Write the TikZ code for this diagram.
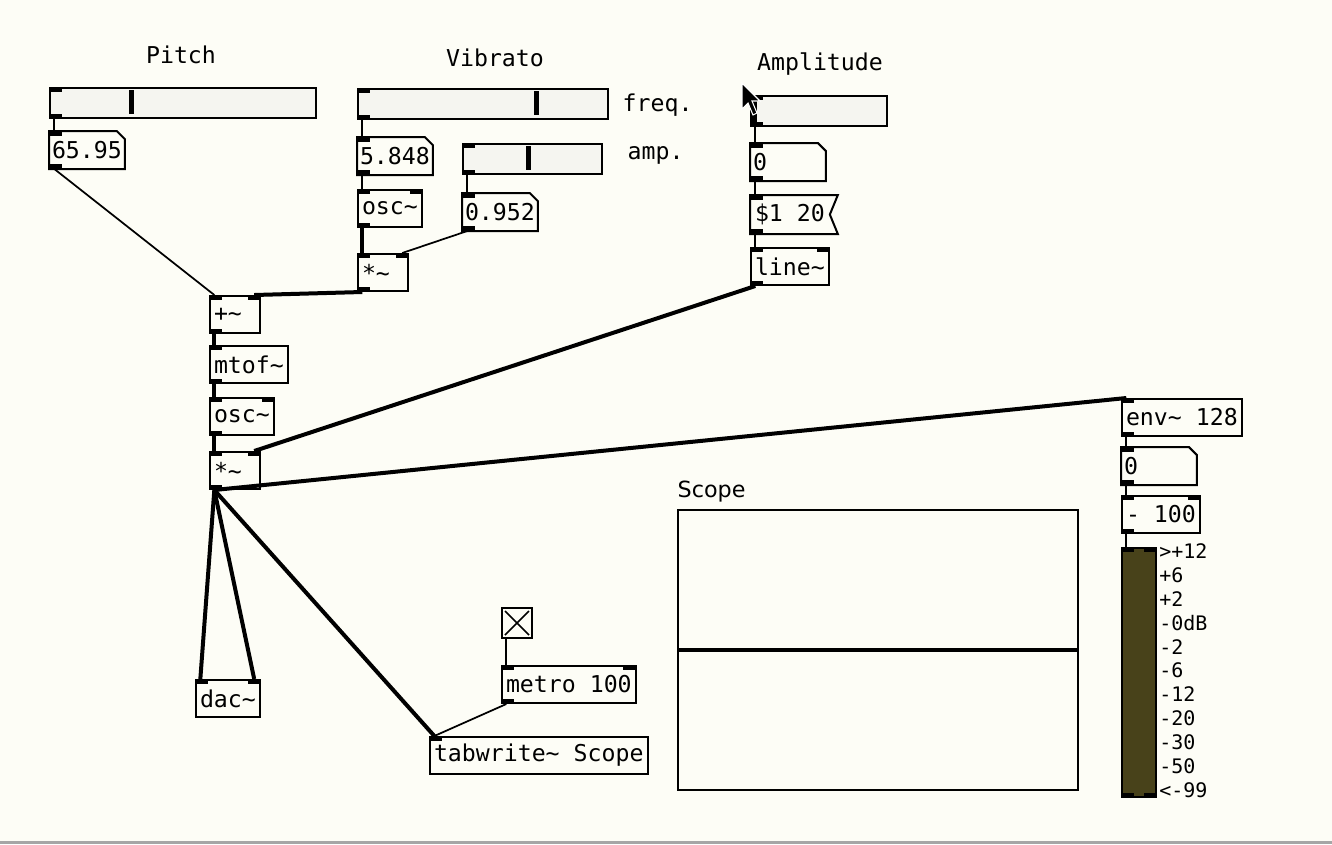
\documentclass[tikz,border=0pt]{standalone}
\usepackage{fontspec}
\setmainfont{DejaVu Sans}
\newfontfamily\pdmono{DejaVu Sans Mono}
\usepackage{tikz}
\usetikzlibrary{positioning}
\definecolor{canvas}{RGB}{253,253,246}
\definecolor{slidebg}{RGB}{245,245,240}
\definecolor{vufill}{RGB}{72,66,26}
\newcommand{\pdfont}{\pdmono\fontsize{17.4}{20}\selectfont}
\newcommand{\vufont}{\pdmono\fontsize{15}{17}\selectfont}
\newcommand{\tld}{\textasciitilde}
% inlet / outlet tabs
\newcommand{\inL}[1]{\fill (#1.north west) rectangle ++(10pt,-3.5pt);}
\newcommand{\inR}[1]{\fill (#1.north east) rectangle ++(-10pt,-3.5pt);}
\newcommand{\outL}[1]{\fill (#1.south west) rectangle ++(10pt,3.5pt);}
\newcommand{\outR}[1]{\fill (#1.south east) rectangle ++(-10pt,3.5pt);}

\begin{document}
\begin{tikzpicture}[x=0.75pt, y=-0.75pt,
    obj/.style={draw, line width=1.5pt, anchor=north west, inner xsep=3pt, inner ysep=0pt,
                minimum height=27.75pt, font=\pdfont},
    slider/.style={draw, fill=slidebg, line width=1.5pt, anchor=north west, inner sep=0pt,
                   minimum height=22.5pt},
    lbl/.style={font=\pdfont},
    sig/.style={line width=3pt},
    ctl/.style={line width=1.3pt}]
    \newcommand{\numbox}[3]{%
      \node[obj, draw=none, inner xsep=1.5pt, minimum height=27pt] (#1) at (#2) {#3};
      \draw[line width=1.5pt] (#1.north west) -- ([xshift=-6pt]#1.north east)
        -- ([yshift=-6pt]#1.north east) -- (#1.south east) -- (#1.south west) -- cycle;
      \inL{#1} \outL{#1}}

    \fill[canvas] (0,0) rectangle (1332,844);
    \fill[gray!70] (0,841) rectangle (1332,844);

    % pitch
    \node[lbl] (pitchlbl) at (181,55) {Pitch};
    \node[slider, minimum width=199.5pt] (pitchsl) at (49,87) {};
    \fill (129,90) rectangle (134,114);
    \inL{pitchsl} \outL{pitchsl}
    \numbox{pitchnum}{49,131}{65.95}

    % vibrato
    \node[lbl] (vibLbl) at (495,58) {Vibrato};
    \node[slider, minimum width=187.5pt] (freqsl) at (357,88) {};
    \fill (534,91) rectangle (539,115);
    \inL{freqsl} \outL{freqsl}
    \node[lbl, anchor=west] (freqlbl) at (618,105) {freq.};
    \numbox{freqnum}{357,137}{5.848}
    \node[slider, minimum width=104.25pt] (ampsl) at (462,143) {};
    \fill (526,146) rectangle (531,170);
    \inL{ampsl} \outL{ampsl}
    \node[lbl, anchor=west] (amplbl) at (623,155) {amp.};
    \node[obj] (vibosc) at (357,189) {osc\tld};
    \inL{vibosc} \inR{vibosc} \outL{vibosc}
    \numbox{ampnum}{462,193}{0.952}
    \node[obj] (vibmul) at (357,253) {*\tld\hphantom{0}};
    \inL{vibmul} \inR{vibmul} \outL{vibmul}

    % amplitude
    \node[lbl] (amplitudelbl) at (820,64) {Amplitude};
    \node[slider, minimum width=102pt] (amplsl) at (750,95) {};
    \fill (752,98) rectangle (757,122);
    \inL{amplsl} \outL{amplsl}
    \numbox{amplnum}{750,143}{0\hphantom{0000}}
    \node[obj, draw=none] (msg) at (750,195) {\$1 20};
    \draw[line width=1.5pt] (msg.north west) -- ([xshift=6pt]msg.north east) -- (msg.east)
      -- ([xshift=6pt]msg.south east) -- (msg.south west) -- cycle;
    \inL{msg} \outL{msg}
    \node[obj] (line) at (750,247) {line\tld};
    \inL{line} \inR{line} \outL{line}

    % main chain
    \node[obj] (plus) at (209,295) {+\tld\hphantom{0}};
    \inL{plus} \inR{plus} \outL{plus}
    \node[obj] (mtof) at (209,345) {mtof\tld};
    \inL{mtof} \outL{mtof}
    \node[obj] (osc) at (209,397) {osc\tld};
    \inL{osc} \inR{osc} \outL{osc}
    \node[obj] (mul) at (209,451) {*\tld\hphantom{0}};
    \inL{mul} \inR{mul} \outL{mul}
    \node[obj] (dac) at (195,679) {dac\tld};
    \inL{dac} \inR{dac}

    % scope
    \node[draw, line width=1.5pt, anchor=north west, minimum size=22.5pt, inner sep=0pt] (toggle) at (501,607) {};
    \draw[line width=1.2pt] ([shift={(3pt,-3pt)}]toggle.north west) -- ([shift={(-3pt,3pt)}]toggle.south east)
      ([shift={(-3pt,-3pt)}]toggle.north east) -- ([shift={(3pt,3pt)}]toggle.south west);
    \node[obj] (metro) at (501,665) {metro 100};
    \inL{metro} \inR{metro} \outL{metro}
    \node[obj] (tabwrite) at (429,736) {tabwrite\tld{} Scope};
    \inL{tabwrite}
    \node[font=\fontsize{16.7}{19}\selectfont, anchor=west] (scopelbl) at (673,492) {Scope};
    \node[draw, line width=1.5pt, anchor=north west, minimum width=300pt, minimum height=210pt, inner sep=0pt] (scope) at (677,509) {};
    \draw[line width=3pt] (scope.west) -- (scope.east);

    % level meter
    \node[obj] (env) at (1121,398) {env\tld{} 128};
    \inL{env} \outL{env}
    \numbox{envnum}{1121,447}{0\hphantom{0000}}
    \node[obj] (sub) at (1121,495) {- 100};
    \inL{sub} \inR{sub} \outL{sub}
    \node[draw, fill=vufill, line width=1.5pt, anchor=north west, minimum width=25.5pt,
          minimum height=186.75pt, inner sep=0pt] (vu) at (1121,547) {};
    \inL{vu} \inR{vu} \outL{vu} \outR{vu}
    \foreach \t [count=\i from 0] in {>+12,+6,+2,-0dB,-2,-6,-12,-20,-30,-50,<-99}
      \node[font=\vufont, anchor=west, inner sep=0pt] (vu\i) at (1159,551+23.9*\i) {\t};

    % connections
    \draw[ctl] ([xshift=4pt]pitchsl.south west) -- ([xshift=4pt]pitchnum.north west);
    \draw[ctl] ([xshift=4pt]pitchnum.south west) -- ([xshift=4pt]plus.north west);
    \draw[ctl] ([xshift=4pt]freqsl.south west) -- ([xshift=4pt]freqnum.north west);
    \draw[ctl] ([xshift=4pt]freqnum.south west) -- ([xshift=4pt]vibosc.north west);
    \draw[sig] ([xshift=4pt]vibosc.south west) -- ([xshift=4pt]vibmul.north west);
    \draw[ctl] ([xshift=4pt]ampsl.south west) -- ([xshift=4pt]ampnum.north west);
    \draw[ctl] ([xshift=4pt]ampnum.south west) -- ([xshift=-5pt]vibmul.north east);
    \draw[sig] ([xshift=4pt]vibmul.south west) -- ([xshift=-5pt]plus.north east);
    \draw[ctl] ([xshift=4pt]amplsl.south west) -- ([xshift=4pt]amplnum.north west);
    \draw[ctl] ([xshift=4pt]amplnum.south west) -- ([xshift=4pt]msg.north west);
    \draw[ctl] ([xshift=4pt]msg.south west) -- ([xshift=4pt]line.north west);
    \draw[sig] ([xshift=4pt]line.south west) -- ([xshift=-5pt]mul.north east);
    \draw[sig] ([xshift=4pt]plus.south west) -- ([xshift=4pt]mtof.north west);
    \draw[sig] ([xshift=4pt]mtof.south west) -- ([xshift=4pt]osc.north west);
    \draw[sig] ([xshift=4pt]osc.south west) -- ([xshift=4pt]mul.north west);
    \draw[sig] ([xshift=4pt]mul.south west) -- ([xshift=4pt]dac.north west);
    \draw[sig] ([xshift=4pt]mul.south west) -- ([xshift=-5pt]dac.north east);
    \draw[sig] ([xshift=4pt]mul.south west) -- ([xshift=4pt]tabwrite.north west);
    \draw[sig] ([xshift=4pt]mul.south west) -- ([xshift=4pt]env.north west);
    \draw[ctl] ([xshift=4pt]toggle.south west) -- ([xshift=4pt]metro.north west);
    \draw[ctl] ([xshift=4pt]metro.south west) -- ([xshift=4pt]tabwrite.north west);
    \draw[ctl] ([xshift=4pt]env.south west) -- ([xshift=4pt]envnum.north west);
    \draw[ctl] ([xshift=4pt]envnum.south west) -- ([xshift=4pt]sub.north west);
    \draw[ctl] ([xshift=4pt]sub.south west) -- ([xshift=4pt]vu.north west);

    % mouse pointer
    \filldraw[fill=black, draw=white, line width=0.8pt]
      (742,83) -- (742,109) -- (748,103) -- (753,115) -- (757,113) -- (752,101) -- (760,101) -- cycle;
\end{tikzpicture}
\end{document}
